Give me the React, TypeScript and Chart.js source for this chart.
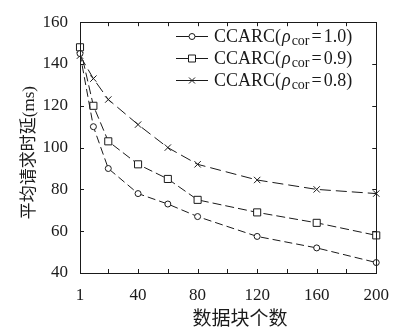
import React, { useEffect, useRef } from "react";
import { Chart, registerables } from "chart.js";
Chart.register(...registerables);

const blockCounts = [1, 10, 20, 40, 60, 80, 120, 160, 200];
const latencyRho10 = [145, 110, 90, 78, 73, 67, 57.5, 52, 45];
const latencyRho09 = [148, 120, 103, 92, 85, 75, 69, 64, 58];
const latencyRho08 = [144, 133, 123, 111, 100, 92, 84.5, 80, 78];
const xTickValues = [1, 20, 40, 60, 80, 100, 120, 140, 160, 180, 200];
const xTickLabels = ["1", "", "40", "", "80", "", "120", "", "160", "", "200"];
const yTickValues = [40, 60, 80, 100, 120, 140, 160];
const rhoLabels = ["1.0", "0.9", "0.8"];
const markerStyles = ["circle", "rect", "crossRot"];
const dashes = [[8, 4], [9, 4], [11, 5]];
const xTitle = "数据块个数";
const yTitle = "平均请求时延(ms)";

const SERIF = "'Liberation Serif', 'Noto Sans CJK SC', serif";
const INK = "#1a1a1a";

function drawMarker(ctx: CanvasRenderingContext2D, style: string, x: number, y: number) {
  ctx.save();
  ctx.setLineDash([]);
  ctx.strokeStyle = INK;
  ctx.fillStyle = "#fff";
  ctx.lineWidth = 1;
  ctx.beginPath();
  if (style === "circle") {
    ctx.arc(x, y, 3, 0, Math.PI * 2);
    ctx.fill();
    ctx.stroke();
  } else if (style === "rect") {
    ctx.rect(x - 3.5, y - 3.5, 7, 7);
    ctx.fill();
    ctx.stroke();
  } else {
    ctx.moveTo(x - 3, y - 3);
    ctx.lineTo(x + 3, y + 3);
    ctx.moveTo(x + 3, y - 3);
    ctx.lineTo(x - 3, y + 3);
    ctx.stroke();
  }
  ctx.restore();
}

const decorPlugin = {
  id: "decor",
  afterDraw(chart: any) {
    const ctx: CanvasRenderingContext2D = chart.ctx;
    const { left, right, top, bottom } = chart.chartArea;
    const xs = chart.scales.x;
    const ys = chart.scales.y;
    ctx.save();
    ctx.strokeStyle = INK;
    ctx.lineWidth = 1;
    ctx.setLineDash([]);
    ctx.strokeRect(Math.round(left) + 0.5, Math.round(top) + 0.5, Math.round(right - left), Math.round(bottom - top));
    const tl = 4;
    ctx.beginPath();
    xTickValues.forEach((v) => {
      const px = Math.round(xs.getPixelForValue(v)) + 0.5;
      ctx.moveTo(px, bottom);
      ctx.lineTo(px, bottom - tl);
      ctx.moveTo(px, top);
      ctx.lineTo(px, top + tl);
    });
    yTickValues.forEach((v) => {
      const py = Math.round(ys.getPixelForValue(v)) + 0.5;
      ctx.moveTo(left, py);
      ctx.lineTo(left + tl, py);
      ctx.moveTo(right, py);
      ctx.lineTo(right - tl, py);
    });
    ctx.stroke();

    // legend
    rhoLabels.forEach((r, i) => {
      const y = 36 + i * 22;
      ctx.beginPath();
      ctx.strokeStyle = INK;
      ctx.moveTo(176, y + 0.5);
      ctx.lineTo(208, y + 0.5);
      ctx.stroke();
      drawMarker(ctx, markerStyles[i], 192, y + 0.5);
      let x = 214;
      const base = y + 6;
      ctx.fillStyle = INK;
      ctx.textBaseline = "alphabetic";
      ctx.textAlign = "left";
      ctx.font = `18px ${SERIF}`;
      ctx.fillText("CCARC(", x, base);
      x += ctx.measureText("CCARC(").width + 1;
      ctx.font = `italic 18px ${SERIF}`;
      ctx.fillText("ρ", x, base);
      x += ctx.measureText("ρ").width + 1;
      ctx.font = `14px ${SERIF}`;
      ctx.fillText("cor", x, base + 3);
      x += ctx.measureText("cor").width + 2;
      ctx.font = `18px ${SERIF}`;
      ctx.fillText("=", x, base);
      x += ctx.measureText("=").width + 2;
      ctx.fillText(r + ")", x, base);
    });

    // titles
    ctx.fillStyle = INK;
    ctx.textAlign = "center";
    ctx.textBaseline = "middle";
    ctx.font = `19px ${SERIF}`;
    ctx.fillText(xTitle, 240, 320);
    ctx.font = `17px ${SERIF}`;
    ctx.translate(30, (top + bottom) / 2 + 5);
    ctx.rotate(-Math.PI / 2);
    ctx.fillText(yTitle, 0, 0);
    ctx.restore();
  },
};

export default function App() {
  const ref = useRef<HTMLCanvasElement>(null);
  useEffect(() => {
    if (!ref.current) return;
    const series = [latencyRho10, latencyRho09, latencyRho08];
    const chart = new Chart(ref.current, {
      type: "line",
      data: {
        datasets: series.map((s, i) => ({
          label: "CCARC(ρcor=" + rhoLabels[i] + ")",
          data: blockCounts.map((x, j) => ({ x, y: s[j] })),
          borderColor: INK,
          borderWidth: 1,
          borderDash: dashes[i],
          pointStyle: markerStyles[i],
          pointRadius: markerStyles[i] === "rect" ? 5 : markerStyles[i] === "crossRot" ? 4.5 : 3,
          pointBorderColor: INK,
          pointBackgroundColor: "#fff",
          pointBorderWidth: 1,
          tension: 0,
          clip: false,
        })) as any,
      },
      options: {
        animation: false,
        responsive: false,
        maintainAspectRatio: false,
        layout: { padding: { top: 12, right: 19, left: 0, bottom: 0 } },
        plugins: { legend: { display: false }, tooltip: { enabled: false } },
        scales: {
          x: {
            type: "linear",
            min: 1,
            max: 200,
            afterBuildTicks: (s: any) => {
              s.ticks = xTickValues.map((v) => ({ value: v }));
            },
            ticks: {
              autoSkip: false,
              maxRotation: 0,
              padding: 12,
              color: INK,
              font: { family: SERIF, size: 17 },
              callback: (v: any) => {
                const i = xTickValues.indexOf(Number(v));
                return i >= 0 ? xTickLabels[i] : "";
              },
            },
            grid: { display: false, drawTicks: false },
            border: { display: false },
            afterFit: (s: any) => {
              s.height = 63;
            },
          },
          y: {
            type: "linear",
            min: 40,
            max: 160,
            afterBuildTicks: (s: any) => {
              s.ticks = yTickValues.map((v) => ({ value: v }));
            },
            ticks: {
              padding: 12,
              color: INK,
              font: { family: SERIF, size: 17 },
            },
            grid: { display: false, drawTicks: false },
            border: { display: false },
            afterFit: (s: any) => {
              s.width = 80;
            },
          },
        },
      },
      plugins: [decorPlugin],
    });
    return () => chart.destroy();
  }, []);
  return (
    <div style={{ position: "fixed", left: 0, top: 0, width: 401, height: 336, background: "#fff" }}>
      <canvas ref={ref} width={401} height={336} />
    </div>
  );
}
